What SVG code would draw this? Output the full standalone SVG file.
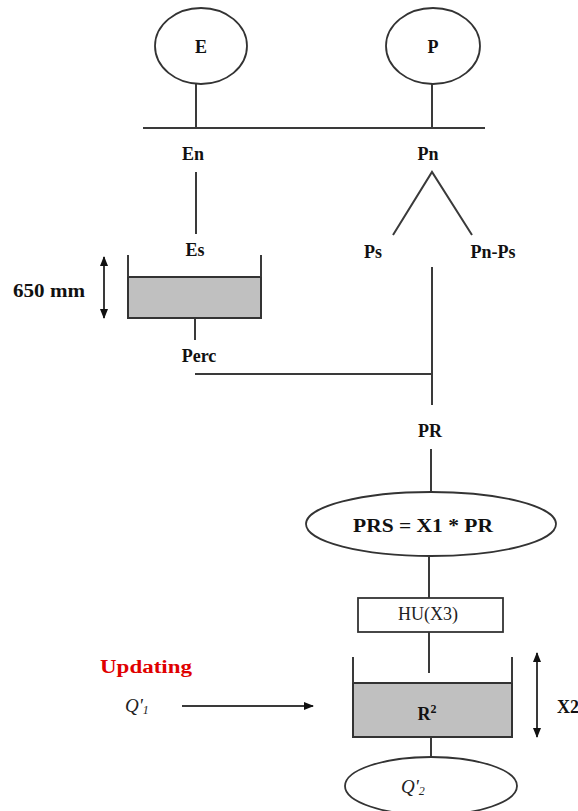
<svg xmlns="http://www.w3.org/2000/svg" width="578" height="811" viewBox="0 0 578 811">
<style>
.ln{stroke:#3a3a3a;stroke-width:2;fill:none}
.shape{stroke:#333;stroke-width:1.8;fill:#fff}
.tank{stroke:#333;stroke-width:2;fill:#c0c0c0}
.t{font-family:"Liberation Serif",serif;font-weight:bold;font-size:18px;fill:#111;text-anchor:middle}
.r{font-family:"Liberation Serif",serif;font-size:18px;fill:#222;text-anchor:middle}
.q{font-family:"Liberation Serif",serif;font-style:italic;font-size:19px;fill:#222}
</style>
<defs>
<marker id="ah" markerWidth="10" markerHeight="8" refX="9" refY="4" orient="auto-start-reverse" markerUnits="userSpaceOnUse">
<path d="M0,0 L10,4 L0,8 Z" fill="#111"/>
</marker>
</defs>
<rect width="578" height="811" fill="#fff"/>
<g id="connectors">
<line class="ln" x1="196" y1="84" x2="196" y2="128"/>
<line class="ln" x1="432" y1="84" x2="432" y2="128"/>
<line class="ln" x1="143" y1="128" x2="485" y2="128"/>
<line class="ln" x1="196" y1="172" x2="196" y2="234"/>
<polyline class="ln" points="393,235 432,172 472,235"/>
<line class="ln" x1="195" y1="318" x2="195" y2="340"/>
<line class="ln" x1="195" y1="374" x2="432" y2="374"/>
<line class="ln" x1="432" y1="267" x2="432" y2="405"/>
<line class="ln" x1="431" y1="449" x2="431" y2="492"/>
<line class="ln" x1="429" y1="557" x2="429" y2="598"/>
<line class="ln" x1="429" y1="632" x2="429" y2="673"/>
<line class="ln" x1="431" y1="737" x2="431" y2="757"/>
<line class="ln" x1="182" y1="706" x2="313" y2="706" marker-end="url(#ah)"/>
<line class="ln" x1="104" y1="257" x2="104" y2="318" marker-start="url(#ah)" marker-end="url(#ah)"/>
<line class="ln" x1="537" y1="653" x2="537" y2="737" marker-start="url(#ah)" marker-end="url(#ah)"/>
</g>
<g id="E">
<ellipse class="shape" cx="201" cy="46" rx="46" ry="38"/>
<text class="t" x="201" y="53">E</text>
</g>
<g id="P">
<ellipse class="shape" cx="433" cy="46" rx="47" ry="38"/>
<text class="t" x="433" y="53">P</text>
</g>
<g id="En"><text class="t" x="193" y="160">En</text></g>
<g id="Pn"><text class="t" x="428" y="160">Pn</text></g>
<g id="Es"><text class="t" x="195" y="256">Es</text></g>
<g id="Ps"><text class="t" x="373" y="258">Ps</text></g>
<g id="PnPs"><text class="t" x="493" y="258">Pn-Ps</text></g>
<g id="soil-tank">
<rect class="tank" x="128" y="277" width="133" height="41"/>
<line class="ln" x1="128" y1="255" x2="128" y2="277"/>
<line class="ln" x1="261" y1="255" x2="261" y2="277"/>
</g>
<g id="mm650"><text class="t" x="49" y="297" textLength="72" lengthAdjust="spacingAndGlyphs">650 mm</text></g>
<g id="Perc"><text class="t" x="199" y="362">Perc</text></g>
<g id="PR"><text class="t" x="430" y="437">PR</text></g>
<g id="PRS">
<ellipse class="shape" cx="431" cy="524" rx="125" ry="32"/>
<text class="t" x="423" y="532" font-size="20" textLength="140" lengthAdjust="spacingAndGlyphs">PRS = X1 * PR</text>
</g>
<g id="HU">
<rect class="shape" x="358" y="598" width="145" height="34"/>
<text class="r" x="428" y="620">HU(X3)</text>
</g>
<g id="R2">
<rect class="tank" x="353" y="683" width="159" height="54"/>
<line class="ln" x1="353" y1="657" x2="353" y2="683"/>
<line class="ln" x1="512" y1="657" x2="512" y2="683"/>
<text class="t" x="427" y="720">R<tspan font-size="12" dy="-7">2</tspan></text>
</g>
<g id="Q2">
<ellipse class="shape" cx="431" cy="786" rx="86" ry="29"/>
<text class="q" x="401" y="793">Q'<tspan font-size="12" dy="2">2</tspan></text>
</g>
<g id="X2"><text class="t" x="557" y="713" style="text-anchor:start">X2</text></g>
<g id="Updating"><text class="t" x="146" y="673" fill="#e00000" style="fill:#e00000" textLength="92" lengthAdjust="spacingAndGlyphs">Updating</text></g>
<g id="Q1"><text class="q" x="125" y="712">Q'<tspan font-size="12" dy="2">1</tspan></text></g>
</svg>
